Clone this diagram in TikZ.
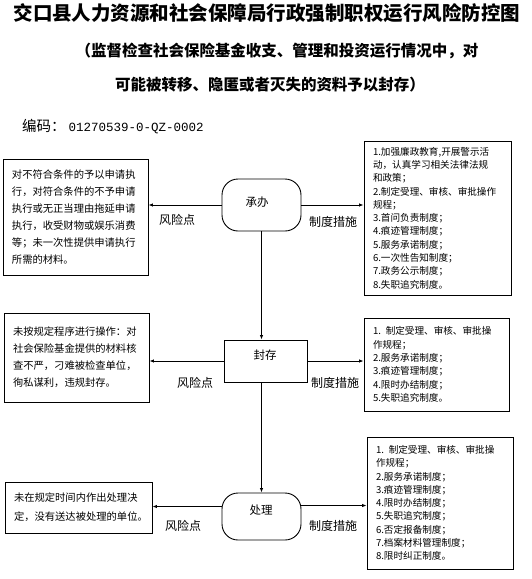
\documentclass[tikz,border=0pt]{standalone}
\usepackage{fontspec}
\setmainfont{Noto Sans CJK SC}
\newfontfamily\codefont{Liberation Mono}
\usetikzlibrary{arrows.meta}
\tikzset{
  riskbox/.style={draw, line width=0.9pt, rectangle, align=left, inner xsep=9pt, inner ysep=0pt},
  lbox/.style={riskbox, font=\fontsize{10.3}{17}\selectfont},
  rbox/.style={riskbox, font=\fontsize{9.6}{13.3}\selectfont},
  term/.style={draw, line width=0.9pt, rounded corners=16pt, minimum width=79pt, inner sep=0pt},
  stepnode/.style={draw, line width=0.9pt, rectangle, minimum width=83pt, minimum height=42pt, inner sep=0pt},
  ntext/.style={font=\fontsize{11.5}{12}\selectfont, inner sep=0pt},
  lab/.style={font=\fontsize{12}{13}\selectfont, inner sep=0pt},
  arr/.style={line width=0.8pt, -{Latex[length=4.5pt,width=3.5pt]}}
}
\begin{document}
\begin{tikzpicture}[x=1pt,y=-1pt]
\useasboundingbox (0,0) rectangle (532,579);
\node[font=\bfseries\fontsize{19.5}{20}\selectfont, inner sep=0pt] (title) at (267,13) {交口县人力资源和社会保障局行政强制职权运行风险防控图};
\node[font=\bfseries\fontsize{15.5}{16}\selectfont, inner sep=0pt] (sub1) at (277,51) {（监督检查社会保险基金收支、管理和投资运行情况中，对};
\node[font=\bfseries\fontsize{15.5}{16}\selectfont, inner sep=0pt] (sub2) at (270,85) {可能被转移、隐匿或者灭失的资料予以封存）};
\node[anchor=west, inner sep=0pt, font=\fontsize{14.5}{15}\selectfont] (code) at (22,127) {编码：\hspace{3pt}{\codefont\fontsize{12.5}{13}\selectfont 01270539-0-QZ-0002}};

% flow nodes
\node[term, minimum height=52pt] (cb) at (261.5,205) {};
\node[ntext] (cbt) at (257,202) {承办};
\node[stepnode] (fc) at (265.5,361) {};
\node[ntext] (fct) at (265,355) {封存};
\node[term, minimum height=47pt] (cl) at (261.5,516.5) {};
\node[ntext] (clt) at (261,510) {处理};

% boxes
\node[lbox, text width=127pt, minimum height=116pt] (L1) at (75.5,217) {对不符合条件的予以申请执\\行，对符合条件的不予申请\\执行或无正当理由拖延申请\\执行，收受财物或娱乐消费\\等；未一次性提供申请执行\\所需的材料。};
\node[rbox, text width=129pt, minimum height=154pt] (R1) at (437.5,218) {1.加强廉政教育,开展警示活\\动，认真学习相关法律法规\\和政策；\\2.制定受理、审核、审批操作\\规程；\\3.首问负责制度；\\4.痕迹管理制度；\\5.服务承诺制度；\\6.一次性告知制度；\\7.政务公示制度；\\8.失职追究制度。};
\node[lbox, text width=127pt, minimum height=89pt] (L2) at (76.5,357.5) {未按规定程序进行操作：对\\社会保险基金提供的材料核\\查不严，刁难被检查单位，\\徇私谋利，违规封存。};
\node[rbox, text width=127pt, minimum height=93pt] (R2) at (436.5,364.5) {1. 制定受理、审核、审批操\\作规程；\\2.服务承诺制度；\\3.痕迹管理制度；\\4.限时办结制度；\\5.失职追究制度。};
\node[lbox, font=\fontsize{10.3}{19}\selectfont, text width=129pt, minimum height=51pt] (L3) at (78.5,507.5) {未在规定时间内作出处理决\\定，没有送达被处理的单位。};
\node[rbox, text width=128pt, minimum height=132pt] (R3) at (440,503) {1. 制定受理、审核、审批操\\作规程；\\2.服务承诺制度；\\3.痕迹管理制度；\\4.限时办结制度；\\5.失职追究制度；\\6.否定报备制度；\\7.档案材料管理制度；\\8.限时纠正制度。};

% connectors
\draw[arr] (cb.west) -- (cb.west -| L1.east);
\draw[arr] (cb.east) -- (cb.east -| R1.west);
\draw[arr] (cb.south) -- (cb.south |- fc.north);
\draw[arr] (fc.west) -- (fc.west -| L2.east);
\draw[arr] (fc.east) -- (fc.east -| R2.west);
\draw[arr] (fc.south -| cb.south) -- (cl.north);
\draw[arr] ([yshift=10pt]cl.west) -- ([yshift=10pt]cl.west -| L3.east);
\draw[arr] ([yshift=11pt]cl.east) -- ([yshift=11pt]cl.east -| R3.west);

% labels
\node[lab] (f1) at (177,220) {风险点};
\node[lab] (z1) at (333,222) {制度措施};
\node[lab] (f2) at (195,383) {风险点};
\node[lab] (z2) at (335,383) {制度措施};
\node[lab] (f3) at (183,526) {风险点};
\node[lab] (z3) at (333,526) {制度措施};
\end{tikzpicture}
\end{document}
